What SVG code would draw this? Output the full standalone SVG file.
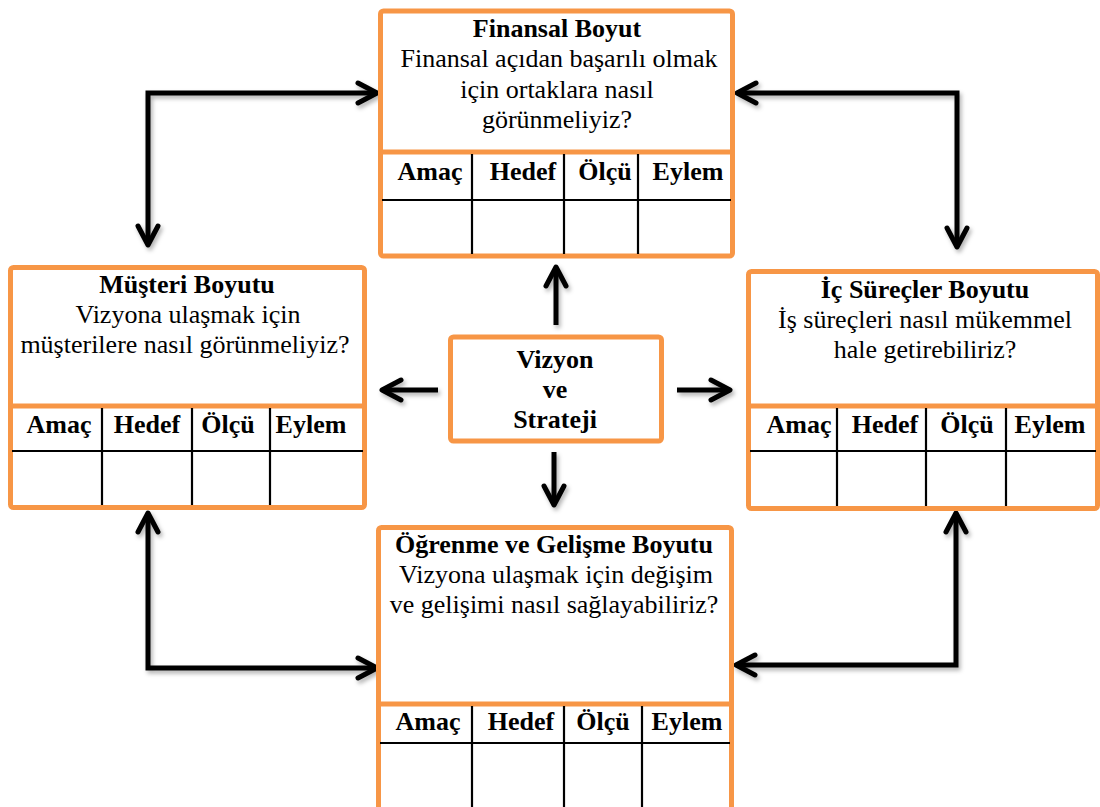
<svg xmlns="http://www.w3.org/2000/svg" width="1100" height="807" viewBox="0 0 1100 807">
  <defs>
    <style>
      .box { fill: #ffffff; stroke: #F79646; stroke-width: 5; }
      .sep { stroke: #F79646; stroke-width: 5; }
      .grid { stroke: #000000; stroke-width: 2.2; fill: none; }
      .t { font-family: "Liberation Serif", "Times New Roman", serif; font-size: 26px; fill: #000; text-anchor: middle; }
      .b { font-weight: bold; }
      .conn { fill: none; stroke: #000; stroke-width: 5; stroke-linejoin: miter; }
    </style>
    <marker id="chev" markerUnits="userSpaceOnUse" viewBox="-24 -14 28 28" refX="0" refY="0" markerWidth="28" markerHeight="28" orient="auto-start-reverse">
      <path d="M -19 -10 L 0 0 L -19 10" fill="none" stroke="#000" stroke-width="5" stroke-linecap="round" stroke-linejoin="round"/>
    </marker>
    <filter id="shadow" x="-20%" y="-20%" width="140%" height="140%">
      <feDropShadow dx="2" dy="3" stdDeviation="2" flood-color="#000" flood-opacity="0.3"/>
    </filter>
  </defs>

  <rect width="1100" height="807" fill="#ffffff"/>

  <!-- connectors -->
  <g id="connectors" class="conn" filter="url(#shadow)">
    <path d="M 148 245 L 148 93 L 377 93" marker-start="url(#chev)" marker-end="url(#chev)"/>
    <path d="M 737 93 L 957 93 L 957 247" marker-start="url(#chev)" marker-end="url(#chev)"/>
    <path d="M 148 513 L 148 668 L 377 668" marker-start="url(#chev)" marker-end="url(#chev)"/>
    <path d="M 956 513 L 956 665 L 736 665" marker-start="url(#chev)" marker-end="url(#chev)"/>
    <path d="M 556 325 L 556 267" marker-end="url(#chev)"/>
    <path d="M 554 452 L 554 505" marker-end="url(#chev)"/>
    <path d="M 677 390 L 730 390" marker-end="url(#chev)"/>
    <path d="M 438 390 L 382 390" marker-end="url(#chev)"/>
  </g>

  <!-- Finansal Boyut -->
  <g id="finansal">
    <rect class="box" x="380.5" y="11" width="352" height="245" rx="3"/>
    <line class="sep" x1="380.5" y1="152" x2="732.5" y2="152"/>
    <line class="grid" x1="382" y1="200" x2="731" y2="200"/>
    <line class="grid" x1="472" y1="154" x2="472" y2="254"/>
    <line class="grid" x1="564" y1="154" x2="564" y2="254"/>
    <line class="grid" x1="638" y1="154" x2="638" y2="254"/>
    <text class="t b" x="557" y="37">Finansal Boyut</text>
    <text class="t" x="559" y="67">Finansal açıdan başarılı olmak</text>
    <text class="t" x="557" y="98">için ortaklara nasıl</text>
    <text class="t" x="557" y="128">görünmeliyiz?</text>
    <text class="t b" x="430" y="180">Amaç</text>
    <text class="t b" x="523" y="180">Hedef</text>
    <text class="t b" x="605" y="180">Ölçü</text>
    <text class="t b" x="688" y="180">Eylem</text>
  </g>

  <!-- Müşteri Boyutu -->
  <g id="musteri">
    <rect class="box" x="10.5" y="267.5" width="354" height="240" rx="3"/>
    <line class="sep" x1="10.5" y1="406" x2="364.5" y2="406"/>
    <line class="grid" x1="12" y1="451" x2="363" y2="451"/>
    <line class="grid" x1="102" y1="408" x2="102" y2="505"/>
    <line class="grid" x1="192" y1="408" x2="192" y2="505"/>
    <line class="grid" x1="270" y1="408" x2="270" y2="505"/>
    <text class="t b" x="187" y="293">Müşteri Boyutu</text>
    <text class="t" x="188" y="323">Vizyona ulaşmak için</text>
    <text class="t" x="185" y="353">müşterilere nasıl görünmeliyiz?</text>
    <text class="t b" x="59" y="433">Amaç</text>
    <text class="t b" x="147" y="433">Hedef</text>
    <text class="t b" x="228" y="433">Ölçü</text>
    <text class="t b" x="311" y="433">Eylem</text>
  </g>

  <!-- İç Süreçler Boyutu -->
  <g id="ic-surecler">
    <rect class="box" x="748.5" y="271.5" width="349" height="237" rx="3"/>
    <line class="sep" x1="748.5" y1="406" x2="1097.5" y2="406"/>
    <line class="grid" x1="750" y1="451" x2="1096" y2="451"/>
    <line class="grid" x1="837" y1="408" x2="837" y2="506"/>
    <line class="grid" x1="926" y1="408" x2="926" y2="506"/>
    <line class="grid" x1="1006" y1="408" x2="1006" y2="506"/>
    <text class="t b" x="925" y="298">İç Süreçler Boyutu</text>
    <text class="t" x="925" y="328">İş süreçleri nasıl mükemmel</text>
    <text class="t" x="925" y="358">hale getirebiliriz?</text>
    <text class="t b" x="799" y="433">Amaç</text>
    <text class="t b" x="885" y="433">Hedef</text>
    <text class="t b" x="967" y="433">Ölçü</text>
    <text class="t b" x="1050" y="433">Eylem</text>
  </g>

  <!-- Öğrenme ve Gelişme Boyutu -->
  <g id="ogrenme">
    <rect class="box" x="378.5" y="527.5" width="353" height="290" rx="3"/>
    <line class="sep" x1="378.5" y1="704" x2="731.5" y2="704"/>
    <line class="grid" x1="380" y1="743" x2="730" y2="743"/>
    <line class="grid" x1="472" y1="706" x2="472" y2="810"/>
    <line class="grid" x1="564" y1="706" x2="564" y2="810"/>
    <line class="grid" x1="642" y1="706" x2="642" y2="810"/>
    <text class="t b" x="554" y="553">Öğrenme ve Gelişme Boyutu</text>
    <text class="t" x="556" y="583">Vizyona ulaşmak için değişim</text>
    <text class="t" x="554" y="613">ve gelişimi nasıl sağlayabiliriz?</text>
    <text class="t b" x="428" y="730">Amaç</text>
    <text class="t b" x="521" y="730">Hedef</text>
    <text class="t b" x="603" y="730">Ölçü</text>
    <text class="t b" x="687" y="730">Eylem</text>
  </g>

  <!-- Vizyon ve Strateji -->
  <g id="vizyon">
    <rect class="box" x="450.5" y="337" width="211" height="104" rx="3"/>
    <text class="t b" x="555" y="368">Vizyon</text>
    <text class="t b" x="555" y="398">ve</text>
    <text class="t b" x="555" y="428">Strateji</text>
  </g>
</svg>
